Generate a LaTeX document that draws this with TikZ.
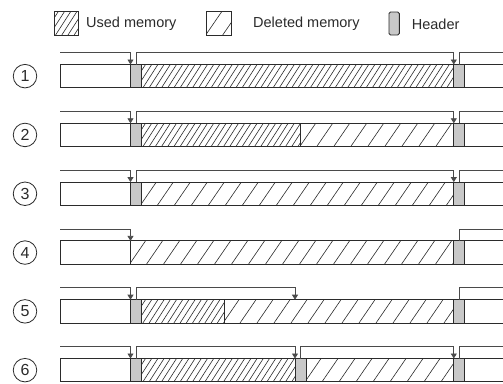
\documentclass[tikz,border=0pt]{standalone}
\usepackage{fontspec}
\setmainfont{Liberation Sans}
\usetikzlibrary{arrows.meta}
\definecolor{ink}{HTML}{2B2B2B}
\definecolor{ptrc}{HTML}{4A4A4A}
\definecolor{hdrfill}{HTML}{C8C8C8}
\tikzset{
  barline/.style={draw=ink, line width=0.9pt},
  hatchline/.style={draw=ink, line width=0.6pt},
  hdr/.style={draw=ink, fill=hdrfill, line width=0.9pt, minimum width=11pt, minimum height=23.3pt, inner sep=0pt, outer sep=0pt},
  ptr/.style={draw=ptrc, line width=0.8pt, -{Triangle[length=5pt,width=6pt]}},
  ptrplain/.style={draw=ptrc, line width=0.8pt},
  num/.style={circle, draw=ink, line width=0.8pt, minimum size=23.5pt, inner sep=0pt, font=\fontsize{16}{16}\selectfont, text=ink},
  lbl/.style={anchor=west, inner sep=0pt, font=\fontsize{14.5}{15}\selectfont, text=ink}
}
% hatch: x1, x2, top, bottom, step, slant
\newcommand\hatchfill[6]{%
  \begin{scope}
    \clip (#1,#3) rectangle (#2,#4);
    \pgfmathsetmacro\hsA{#1-#6-2}
    \pgfmathsetmacro\hsB{#1-#6-2+#5}
    \foreach \hx in {\hsA,\hsB,...,#2} \draw[hatchline] (\hx,#4) -- (\hx+#6,#3);
  \end{scope}}
\newcommand\usedfill[4]{\hatchfill{#1}{#2}{#3}{#4}{6.2}{15}}
\newcommand\delfill[4]{\hatchfill{#1}{#2}{#3}{#4}{17}{16}}
\newcommand\barframe[2]{\draw[barline] (503,#1) -- (60,#1) -- (60,#2) -- (503,#2);}
\begin{document}
\begin{tikzpicture}[x=1pt,y=-1pt]
\useasboundingbox (0,0) rectangle (503,383);
\fill[white] (0,0) rectangle (503,383);

% legend
\usedfill{54}{78}{11.7}{35}
\draw[barline] (54,11.7) rectangle (78,35);
\node[lbl] (lu) at (86,24) {Used memory};
\hatchfill{206.7}{231}{11.7}{35}{17}{16}
\draw[barline] (206.7,11.7) rectangle (231,35);
\node[lbl] (ld) at (253,24) {Deleted memory};
\draw[draw=ink, fill=hdrfill, line width=0.9pt, rounded corners=1.5pt] (389,12) rectangle (399.3,35);
\node[lbl] (lh) at (411.7,24) {Header};

% rows: tops and bottoms
\def\Ta{64.5}\def\Ba{87.8}
\def\Tb{123.3}\def\Bb{146.6}
\def\Tc{182.1}\def\Bc{205.4}
\def\Td{240.9}\def\Bd{264.2}
\def\Te{299.7}\def\Be{323.0}
\def\Tf{358.5}\def\Bf{381.8}

% circled numbers
\node[num] (n1) at (25,\Ta+11.65) {1};
\node[num] (n2) at (25,\Tb+11.65) {2};
\node[num] (n3) at (25,\Tc+11.65) {3};
\node[num] (n4) at (25,\Td+11.65) {4};
\node[num] (n5) at (25,\Te+11.65) {5};
\node[num] (n6) at (25,\Tf+11.65) {6};

% ---------- row 1
\usedfill{141.3}{453.7}{\Ta}{\Ba}
\barframe{\Ta}{\Ba}
\node[hdr] (h1a) at (136,\Ta+11.65) {};
\node[hdr] (h1b) at (459.3,\Ta+11.65) {};
\coordinate (s1) at (60,\Ta-12);
\coordinate (e1) at (503,\Ta-12);
\draw[ptr] (s1) -| (h1a.north west);
\draw[ptr] (h1a.north) -- ++(0,-12) -| (h1b.north west);
\draw[ptrplain] (h1b.north) |- (e1);

% ---------- row 2
\usedfill{141.3}{300.7}{\Tb}{\Bb}
\delfill{300.7}{453.7}{\Tb}{\Bb}
\barframe{\Tb}{\Bb}
\draw[barline] (300.7,\Tb) -- (300.7,\Bb);
\node[hdr] (h2a) at (136,\Tb+11.65) {};
\node[hdr] (h2b) at (459.3,\Tb+11.65) {};
\coordinate (s2) at (60,\Tb-12);
\coordinate (e2) at (503,\Tb-12);
\draw[ptr] (s2) -| (h2a.north west);
\draw[ptr] (h2a.north) -- ++(0,-12) -| (h2b.north west);
\draw[ptrplain] (h2b.north) |- (e2);

% ---------- row 3
\delfill{141.3}{453.7}{\Tc}{\Bc}
\barframe{\Tc}{\Bc}
\node[hdr] (h3a) at (136,\Tc+11.65) {};
\node[hdr] (h3b) at (459.3,\Tc+11.65) {};
\coordinate (s3) at (60,\Tc-12);
\coordinate (e3) at (503,\Tc-12);
\draw[ptr] (s3) -| (h3a.north west);
\draw[ptr] (h3a.north) -- ++(0,-12) -| (h3b.north west);
\draw[ptrplain] (h3b.north) |- (e3);

% ---------- row 4
\delfill{130.5}{453.7}{\Td}{\Bd}
\barframe{\Td}{\Bd}
\draw[barline] (130.5,\Td) -- (130.5,\Bd);
\node[hdr] (h4b) at (459.3,\Td+11.65) {};
\coordinate (d4) at (130.5,\Td);
\coordinate (s4) at (60,\Td-12);
\coordinate (e4) at (503,\Td-12);
\draw[ptr] (s4) -| (d4);
\draw[ptrplain] (h4b.north) |- (e4);

% ---------- row 5
\usedfill{141.3}{224}{\Te}{\Be}
\delfill{224}{453.7}{\Te}{\Be}
\barframe{\Te}{\Be}
\draw[barline] (224,\Te) -- (224,\Be);
\node[hdr] (h5a) at (136,\Te+11.65) {};
\node[hdr] (h5b) at (459.3,\Te+11.65) {};
\coordinate (t5) at (295,\Te);
\coordinate (s5) at (60,\Te-12);
\coordinate (e5) at (503,\Te-12);
\draw[ptr] (s5) -| (h5a.north west);
\draw[ptr] (h5a.north) -- ++(0,-12) -| (t5);
\draw[ptrplain] (h5b.north) |- (e5);

% ---------- row 6
\usedfill{141.3}{295}{\Tf}{\Bf}
\delfill{306}{453.7}{\Tf}{\Bf}
\barframe{\Tf}{\Bf}
\node[hdr] (h6a) at (136,\Tf+11.65) {};
\node[hdr] (h6m) at (300.5,\Tf+11.65) {};
\node[hdr] (h6b) at (459.3,\Tf+11.65) {};
\coordinate (s6) at (60,\Tf-12);
\coordinate (e6) at (503,\Tf-12);
\draw[ptr] (s6) -| (h6a.north west);
\draw[ptr] (h6a.north) -- ++(0,-12) -| (h6m.north west);
\draw[ptr] (h6m.north) -- ++(0,-12) -| (h6b.north west);
\draw[ptrplain] (h6b.north) |- (e6);

\end{tikzpicture}
\end{document}
